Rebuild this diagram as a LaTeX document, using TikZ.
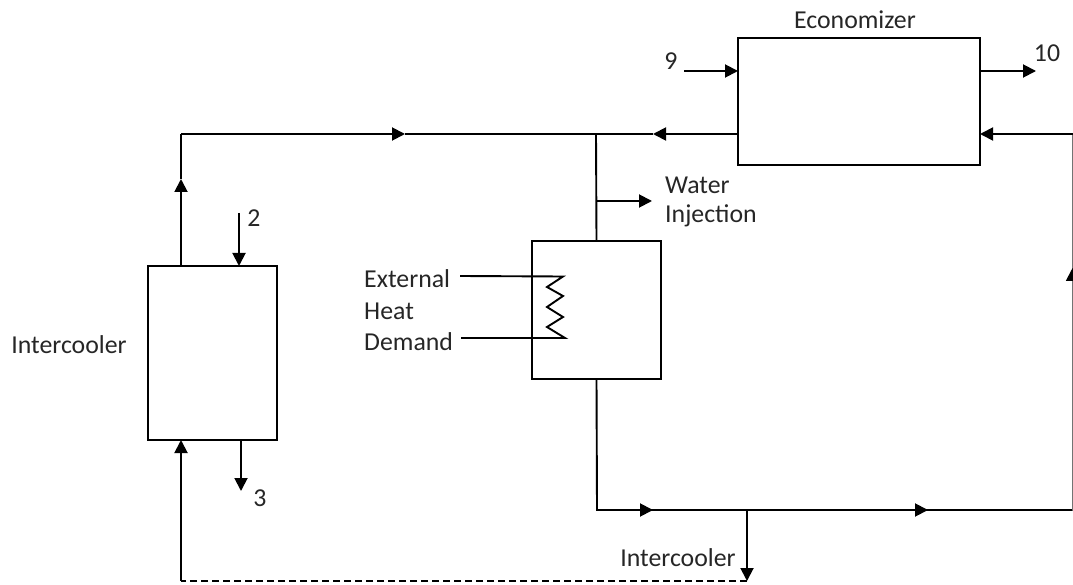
\documentclass[tikz,border=0pt]{standalone}
\usepackage{fontspec}
\setmainfont{Carlito}
\usetikzlibrary{arrows.meta}
\tikzset{
    unit-box/.style = {draw=black, fill=white, line width=1.9pt, rectangle, inner sep=0pt, outer sep=0pt},
    label-text/.style = {inner sep=0pt, font=\fontsize{25.8}{30}\selectfont, text=black!85},
    pipe/.style = {draw=black, line width=1.9pt},
    flow/.style = {pipe, -{Triangle[length=13pt,width=13pt]}},
}

\begin{document}
\begin{tikzpicture}[x=1pt, y=-1pt]
\useasboundingbox (0,0) rectangle (1073,585);
\node [unit-box, minimum width=242pt, minimum height=127pt] (economizer) at (859,101.5) {};
\node [unit-box, minimum width=129pt, minimum height=174pt] (intercooler) at (212.5,353) {};
\node [unit-box, minimum width=129pt, minimum height=138pt] (heater) at (596.5,310) {};

\node[label-text] (economizer-label) at (855,20) {Economizer};
\node[label-text] (intercooler-label) at (69,345) {Intercooler};
\node[label-text] (bottom-label) at (678,558) {Intercooler};
\node[label-text, anchor=west] (water-label) at (665,185) {Water};
\node[label-text, anchor=west] (injection-label) at (665,216) {Injection};
\node[label-text, anchor=west] (external-label) at (364,279) {External};
\node[label-text, anchor=west] (heat-label) at (364,311) {Heat};
\node[label-text, anchor=west] (demand-label) at (364,342) {Demand};
\node[label-text] (nine) at (671,61) {9};
\node[label-text] (ten) at (1047,53) {10};
\node[label-text] (two) at (254,218) {2};
\node[label-text] (three) at (260,498) {3};

\coordinate (junction) at (596,134);
\coordinate (top-corner) at (181,134);
\coordinate (right-top) at (1072.5,134);
\coordinate (right-bottom) at (1072.5,510);
\coordinate (low-corner) at (597,510);
\coordinate (branch) at (747,510);
\coordinate (dash-end) at (747,581);
\coordinate (dash-corner) at (181,581);
\coordinate (water-branch) at (596,201);
\coordinate (water-end) at (652,201);
\coordinate (nine-start) at (684,71);
\coordinate (ten-end) at (1036,71);
\coordinate (two-start) at (239,213);
\coordinate (three-end) at (241,491);
\coordinate (coil-in) at (460,276);
\coordinate (coil-out) at (461,338);

% loop from intercooler to the junction
\draw[flow] (intercooler.north -| top-corner) -- (181,179);
\draw[pipe] (181,179) -- (top-corner);
\draw[flow] (top-corner) -- (405,134);
\draw[pipe] (405,134) -- (junction);
\draw[flow] (economizer.west |- junction) -- (653,134);
\draw[pipe] (653,134) -- (junction);
\draw[pipe] (junction) -- (heater.north);
\draw[flow] (water-branch) -- (water-end);

% return line
\draw[pipe] (heater.south) -- (low-corner) -- (right-bottom);
\draw[flow] (low-corner) -- (653,510);
\draw[flow] (branch) -- (928,510);
\draw[black!55, line width=1.2pt] (right-bottom) -- (right-top);
\draw[flow] (1072.5,280) -- (1072.5,268);
\draw[flow] (right-top) -- (economizer.east |- right-top);

% intercooler feed
\draw[flow] (branch) -- (dash-end);
\draw[pipe, dashed, dash pattern=on 7pt off 4pt] (dash-end) -- (dash-corner);
\draw[flow] (dash-corner) -- (intercooler.south -| dash-corner);

% streams
\draw[flow] (nine-start) -- (economizer.west |- nine-start);
\draw[flow] (economizer.east |- ten-end) -- (ten-end);
\draw[flow] (two-start) -- (intercooler.north -| two-start);
\draw[flow] (intercooler.south -| three-end) -- (three-end);

% heating coil
\draw[pipe, line join=miter] (coil-in) -- (563,276.5) -- (547,287) -- (563,296) -- (547,307) -- (563,317) -- (547,327) -- (565,338) -- (coil-out);
\end{tikzpicture}
\end{document}
